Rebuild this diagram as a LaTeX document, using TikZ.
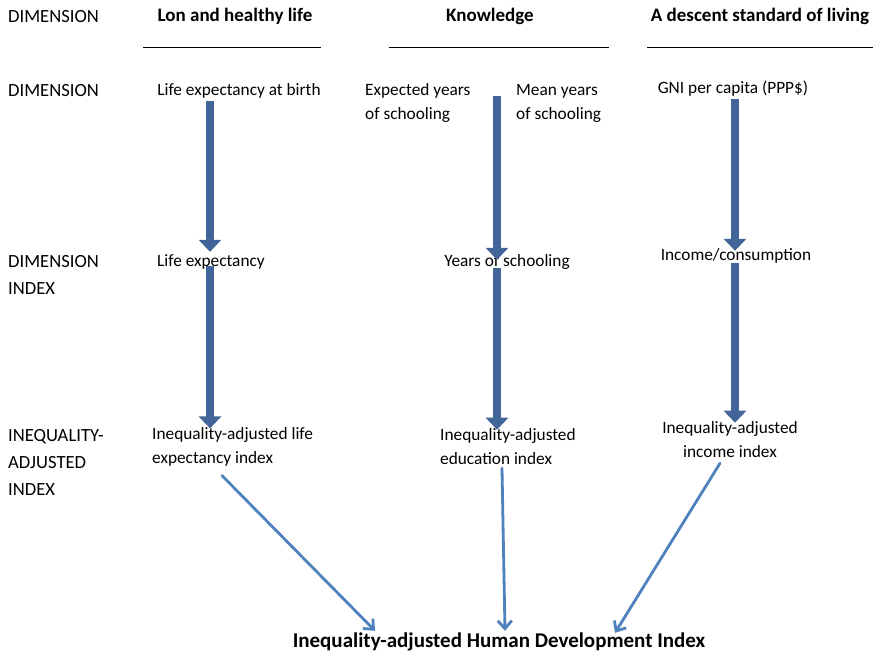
\documentclass[tikz,border=0pt]{standalone}
\usepackage{fontspec}
\setmainfont{Carlito}
\usetikzlibrary{arrows.meta}
\definecolor{fatblue}{HTML}{416598}
\definecolor{thinblue}{HTML}{4F81BD}
\tikzset{
  x=1pt, y=-1pt,
  txt/.style={inner sep=0pt, font=\fontsize{17.3}{24}\selectfont},
  onel/.style={txt, text height=12pt, text depth=4pt},
  side/.style={inner sep=0pt, font=\fontsize{18.6}{27}\selectfont, align=left, anchor=west},
  head/.style={onel, font=\fontsize{19}{24}\selectfont\bfseries},
  finst/.style={onel, font=\fontsize{21}{24}\selectfont\bfseries},
  fat/.style={line width=8pt, draw=fatblue, -{Triangle[width=22pt,length=12pt]}},
  thinarr/.style={line width=2.8pt, draw=thinblue, line cap=round, -{Straight Barb[width=14pt,length=8pt,line width=2.8pt]}},
  rule/.style={line width=0.8pt, draw=black}
}
\begin{document}
\begin{tikzpicture}
\useasboundingbox[fill=white] (0,0) rectangle (876,654);
% left labels
\node[side, text height=12pt, text depth=4pt] (dA) at (8,18) {DIMENSION};
\node[side, text height=12pt, text depth=4pt] (dB) at (8,92) {DIMENSION};
\node[side] (dC) at (8,275) {DIMENSION\\INDEX};
\node[side] (dD) at (8,462) {INEQUALITY-\\ADJUSTED\\INDEX};
% headers
\node[head] (h1) at (235,17) {Lon and healthy life};
\node[head] (h2) at (490,17) {Knowledge};
\node[head] (h3) at (760,17) {A descent standard of living};
\draw[rule] (143,47) -- (321,47);
\draw[rule] (389,47) -- (609,47);
\draw[rule] (647,47) -- (873,47);
% column positions
\coordinate (cA) at (210,0);
\coordinate (cB) at (497,0);
\coordinate (cC) at (735,0);
% row 1
\node[onel] (a1) at (239,91) {Life expectancy at birth};
\node[txt, align=left, anchor=west] (b1) at (365,103) {Expected years\\of schooling};
\node[txt, align=left, anchor=west] (b2) at (516,103) {Mean years\\of schooling};
\node[onel] (c1) at (733,89) {GNI per capita (PPP\$)};
% row 2
\node[onel, anchor=west] (a2) at (157,262) {Life expectancy};
\node[onel] (b3) at (507,262) {Years of schooling};
\node[onel] (c2) at (736,256) {Income/consumption};
% row 3
\node[txt, align=left, anchor=west] (a3) at (152,447) {Inequality-adjusted life\\expectancy index};
\node[txt, align=left, anchor=west] (b4) at (440,447) {Inequality-adjusted\\education index};
\node[txt, align=center] (c3) at (730,440) {Inequality-adjusted\\income index};
% final
\node[finst] (fin) at (499,643) {Inequality-adjusted Human Development Index};
% thick arrows
\coordinate (kstart) at (497,96);
\draw[fat] ([yshift=-2pt]a1.south -| cA) -- ([yshift=2pt]a2.north -| cA);
\draw[fat] ([yshift=4pt]a2.south -| cA) -- ([yshift=-1pt]a3.north -| cA);
\draw[fat] (kstart) -- ([yshift=-6pt]b3.north -| cB);
\draw[fat] ([yshift=2pt]b3.south -| cB) -- ([yshift=-1pt]b4.north -| cB);
\draw[fat] ([yshift=-2pt]c1.south -| cC) -- ([yshift=-3pt]c2.north -| cC);
\draw[fat] ([yshift=1pt]c2.south -| cC) -- ([yshift=-1pt]c3.north -| cC);
% thin arrows
\path (a3.south west) ++(70,9) coordinate (a3o);
\path (b4.south west) ++(62,3) coordinate (b4o);
\path (c3.south) ++(-10,5) coordinate (c3o);
\draw[thinarr] (a3o) -- ([xshift=-124pt,yshift=4pt]fin.north);
\draw[thinarr] (b4o) -- ([xshift=6pt,yshift=4pt]fin.north);
\draw[thinarr] (c3o) -- ([xshift=116pt,yshift=2pt]fin.north);
\end{tikzpicture}
\end{document}
